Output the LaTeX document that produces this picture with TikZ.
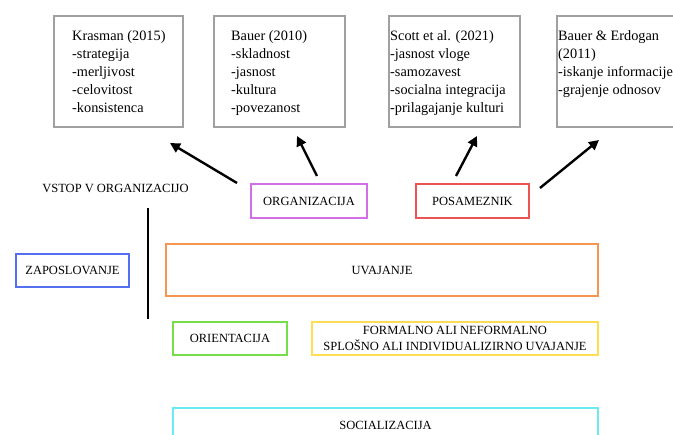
\documentclass[tikz,border=0pt]{standalone}
\usepackage{fontspec}
\setmainfont{Liberation Serif}
\usetikzlibrary{arrows.meta}
\definecolor{cgray}{RGB}{160,160,160}
\definecolor{cpurple}{RGB}{212,110,232}
\definecolor{cred}{RGB}{236,84,84}
\definecolor{cblue}{RGB}{84,112,240}
\definecolor{corange}{RGB}{246,150,80}
\definecolor{cgreen}{RGB}{120,222,72}
\definecolor{cyellow}{RGB}{255,222,84}
\definecolor{ccyan}{RGB}{104,236,240}
\begin{document}
\begin{tikzpicture}[x=1pt,y=-1pt,
  topbox/.style={draw=cgray, line width=2pt, inner sep=0pt, anchor=north west, minimum height=111pt},
  toptext/.style={anchor=north west, inner sep=0pt, align=left, font=\fontsize{14.3}{18}\selectfont},
  cbox/.style={draw=#1, line width=2pt, inner sep=0pt, minimum height=33pt, font=\fontsize{12.5}{16}\selectfont},
  plain/.style={inner sep=0pt, font=\fontsize{12.5}{16}\selectfont},
  arr/.style={line width=2.4pt, -{Triangle[length=10pt,width=10pt]}}]
\useasboundingbox (0,0) rectangle (673,435);
\clip (0,0) rectangle (673,435);
\fill[white] (0,0) rectangle (673,435);

% top boxes
\node[topbox, minimum width=129pt] (k) at (53,15) {};
\node[topbox, minimum width=131pt] (b) at (213,15) {};
\node[topbox, minimum width=131pt] (s) at (388,15) {};
\node[topbox, minimum width=150pt] (be) at (556,15) {};

\node[toptext] (kt) at (72,30) {Krasman (2015)\\-strategija\\-merljivost\\-celovitost\\-konsistenca};
\node[toptext] (bt) at (231,30) {Bauer (2010)\\-skladnost\\-jasnost\\-kultura\\-povezanost};
\node[toptext] (st) at (390,30) {Scott et al. (2021)\\-jasnost vloge\\-samozavest\\-socialna integracija\\-prilagajanje kulturi};
\node[toptext] (bet) at (558,30) {Bauer \& Erdogan\\(2011)\\-iskanje informacije\\-grajenje odnosov};

% middle
\node[plain] (vstop) at (115.5,188) {VSTOP V ORGANIZACIJO};
\node[cbox=cpurple, minimum width=116pt, minimum height=34pt] (org) at (309,201) {ORGANIZACIJA};
\node[cbox=cred, minimum width=113pt, minimum height=34pt] (pos) at (472.5,201) {POSAMEZNIK};

\node[cbox=cblue, minimum width=113pt] (zap) at (72.5,270.5) {ZAPOSLOVANJE};
\node[cbox=corange, minimum width=432pt, minimum height=52pt] (uva) at (382,270) {UVAJANJE};
\node[cbox=cgreen, minimum width=114pt] (ori) at (230,338.5) {ORIENTACIJA};
\node[cbox=cyellow, minimum width=286pt, align=center] (form) at (455,338.5) {FORMALNO ALI NEFORMALNO\\SPLOŠNO ALI INDIVIDUALIZIRNO UVAJANJE};
\node[cbox=ccyan, minimum width=425pt, minimum height=34pt] (soc) at (385.5,425) {SOCIALIZACIJA};

% vertical line
\coordinate (vt) at (148,208);
\coordinate (vb) at (148,319);
\draw[line width=1.5pt] (vt) -- (vb);

% arrows
\coordinate (a1s) at (237,183); \coordinate (a1e) at (170,143);
\coordinate (a2s) at (317,176); \coordinate (a2e) at (297,136);
\coordinate (a3s) at (456,176); \coordinate (a3e) at (477,136);
\coordinate (a4s) at (540,188); \coordinate (a4e) at (599,140);
\draw[arr] (a1s) -- (a1e);
\draw[arr] (a2s) -- (a2e);
\draw[arr] (a3s) -- (a3e);
\draw[arr] (a4s) -- (a4e);
\end{tikzpicture}
\end{document}
